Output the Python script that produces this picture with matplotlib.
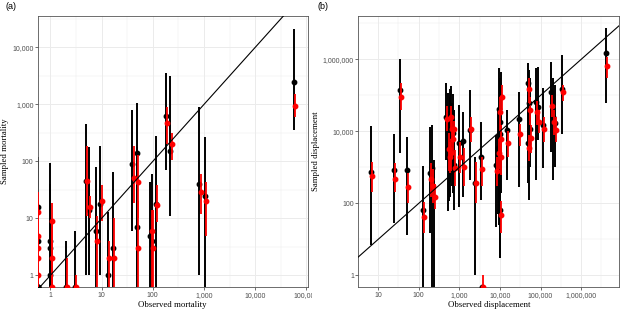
import numpy as np
import matplotlib
matplotlib.use("Agg")
import matplotlib.pyplot as plt
from matplotlib.ticker import FixedLocator, FuncFormatter
from matplotlib.transforms import Bbox, TransformedBbox

# ---- panel (a): mortality (0 = value on the axis edge, like ggplot's -Inf) ----
obs_a = np.array([0, 0, 0, 0, 0, 1, 1, 1, 2, 3, 5, 5.7, 7.8, 9.5, 13.5, 16.5,
                  40, 49, 49, 90, 95, 115, 178, 220, 815, 1030, 56000])
black_a = np.array([16, 4, 0, 0, 0, 4, 3, 1, 0, 0, 45, 14, 6, 18, 1, 3,
                    90, 140, 7, 5, 4, 18, 630, 150, 40, 24.6, 2500])
black_lo_a = np.array([0, 0, 0, 0, 0, 0, 0, 0, 0, 0, 1, 1, 0, 1, 0, 0,
                       6, 1, 0, 0, 0, 0, 70, 11, 1, 0, 355])
black_hi_a = np.array([120, 60, 10, 5, 3, 95, 40, 20, 4, 6, 450, 180, 80, 185, 13, 65,
                       810, 1070, 180, 44, 61, 275, 3500, 3150, 910, 270, 21000])
red_a = np.array([13, 5, 3, 2, 1, 9, 2, 0, 0, 0, 45, 16, 4, 20, 2, 2,
                  51, 43, 3, 6, 3, 17, 465, 200, 29, 20, 930])
red_lo_a = np.array([0, 1, 0, 0, 0, 0, 0, 0, 0, 0, 11, 10, 0, 9, 0, 0,
                     19, 10, 0, 0, 0, 8.7, 205, 105, 12, 5, 600])
red_hi_a = np.array([29, 20, 8, 5, 3, 19, 8, 4, 2, 1, 190, 25, 11, 38, 4, 10,
                     190, 130, 20, 14, 14, 38, 890, 310, 60, 44, 1550])

# ---- panel (b): displacement ----
obs_b = np.array([6.6, 25, 34, 52, 130, 187, 215, 240, 470, 540, 580, 600, 640, 680,
                  720, 560, 750, 1000, 1250, 1870, 2400, 3500, 3600, 7900, 8900, 9600,
                  9800, 10000, 10200, 10500, 14800, 29500, 50000, 52000, 55000, 48000,
                  76000, 89000, 113000, 185000, 200000, 225000, 340000, 4.2e6])
black_b = np.array([740, 850, 140000, 850, 65, 720, 970, 150, 24500, 3500, 32000, 4650,
                    16700, 6000, 9000, 1780, 1200, 4800, 5350, 11000, 370, 1950, np.nan,
                    1150, 3550, 43000, 18500, 8700, 65, 91000, 11000, 21500, 215000,
                    60000, 12000, 4650, 66000, 48000, 15000, 126000, 25500, 16700,
                    150000, 1.5e6])
black_lo_b = np.array([7, 29, 2450, 13, 0, 15, 0, 0, 1600, 60, 400, 150, 1500, 300,
                       200, 120, 65, 80, 150, 445, 1, 124, np.nan, 22, 50, 25, 300, 3,
                       3, 190, 445, 290, 3000, 124, 1000, 360, 445, 5700, 940, 2700,
                       445, 1000, 8700, 60000])
black_hi_b = np.array([14000, 8700, 1e6, 6800, 1100, 13000, 15000, 1600, 215000,
                       120000, 150000, 90000, 180000, 60000, 110000, 30000, 40000,
                       54000, 35000, 140000, 2000, 18500, np.nan, 7900, 40000, 560000,
                       300000, 200000, 1500, 450000, 39000, 126000, 800000, 500000,
                       300000, 100000, 560000, 600000, 156000, 850000, 300000, 200000,
                       1.3e6, 7.2e6])
red_b = np.array([585, 480, 88000, 280, 41, 490, 300, 150, 21500, 3160, 24500, 2450,
                  12000, 6300, 12000, 2000, 940, 1950, 1000, 11300, 370, 880, 0, 790,
                  2450, 35000, 6300, 1950, 47, 91000, 4900, 8300, 147000, 39000, 6600,
                  3550, 35000, 18500, 11300, 50000, 18500, 11000, 126000, 660000])
red_lo_b = np.array([210, 210, 39000, 100, 15, 150, 100, 70, 10000, 800, 11000, 800,
                     5000, 2500, 5000, 700, 300, 700, 300, 5000, 100, 300, 0, 300, 900,
                     10000, 2000, 600, 15, 40000, 2000, 4000, 60000, 15000, 2500, 1500,
                     15000, 9000, 5000, 25000, 8000, 5000, 70000, 295000])
red_hi_b = np.array([1440, 1300, 215000, 680, 110, 1300, 900, 350, 50000, 9000, 50000,
                     6000, 25000, 13000, 20000, 5000, 3000, 5000, 3500, 25000, 1400,
                     2000, 1, 2000, 6000, 90000, 15000, 5000, 120, 200000, 10000, 16000,
                     300000, 90000, 15000, 8000, 70000, 40000, 25000, 100000, 40000,
                     25000, 200000, 1.18e6])

W, H = 623, 312
fig = plt.figure(figsize=(W / 100, H / 100), dpi=100)

SANS = "Liberation Sans"
SERIF = "Liberation Serif"


def edge(v, lim):
    v = np.asarray(v, dtype=float)
    return np.where(v > 0, v, lim)


def comma(v, pos):
    return f"{v:,.0f}"


def panel(rect, obs, blk, blo, bhi, red, rlo, rhi, xlim, ylim,
          xmaj, ymaj, xmin, ymin, xlabel, ylabel):
    ax = fig.add_axes(rect)
    ax.set_xscale("log")
    ax.set_yscale("log")
    ax.set_xlim(*xlim)
    ax.set_ylim(*ylim)

    for v in xmin:
        ax.axvline(v, color="#EBEBEB", lw=0.35, zorder=0)
    for v in ymin:
        ax.axhline(v, color="#EBEBEB", lw=0.35, zorder=0)
    for v in xmaj:
        ax.axvline(v, color="#EBEBEB", lw=0.7, zorder=0)
    for v in ymaj:
        ax.axhline(v, color="#EBEBEB", lw=0.7, zorder=0)

    x = edge(obs, xlim[0])
    # red estimates are dodged a little to the right
    xr = np.where(np.asarray(obs) > 0, x * 10 ** 0.025, x)
    lo = edge(blo, ylim[0])
    hi = edge(bhi, ylim[0])
    ax.vlines(x, lo, hi, color="black", lw=1.4, zorder=2)
    ax.plot(x, edge(blk, ylim[0]), "o", color="black", ms=3.2, zorder=3)
    ax.vlines(xr, edge(rlo, ylim[0]), edge(rhi, ylim[0]), color="#FF0000", lw=1.3, zorder=4)
    ax.plot(xr, edge(red, ylim[0]), "o", color="#FF0000", ms=3.2, zorder=5)

    lim = [min(xlim[0], ylim[0]), max(xlim[1], ylim[1])]
    ax.plot(lim, lim, color="black", lw=0.8, zorder=6)

    ax.xaxis.set_major_locator(FixedLocator(xmaj))
    ax.yaxis.set_major_locator(FixedLocator(ymaj))
    ax.xaxis.set_minor_locator(FixedLocator([]))
    ax.yaxis.set_minor_locator(FixedLocator([]))
    ax.xaxis.set_major_formatter(FuncFormatter(comma))
    ax.yaxis.set_major_formatter(FuncFormatter(comma))
    ax.tick_params(length=2, width=0.5, color="#333333", pad=1.2,
                   labelsize=5, labelcolor="#4D4D4D")
    for lab in ax.get_xticklabels() + ax.get_yticklabels():
        lab.set_family(SANS)
    for s in ax.spines.values():
        s.set_color("#555555")
        s.set_linewidth(0.6)
    ax.set_xlabel(xlabel, family=SERIF, fontsize=6.3, labelpad=1.5)
    ax.set_ylabel(ylabel, family=SERIF, fontsize=6.3, labelpad=2)
    return ax


ax_a = panel([38 / W, 1 - 287.3 / H, 269.5 / W, 271.3 / H],
             obs_a, black_a, black_lo_a, black_hi_a, red_a, red_lo_a, red_hi_a,
             (0.575, 1.05e5), (0.62, 35500),
             [1, 10, 100, 1e3, 1e4, 1e5], [1, 10, 100, 1e3, 1e4],
             [10 ** (k + 0.5) for k in range(0, 5)], [10 ** (k + 0.5) for k in range(-1, 5)],
             "Observed mortality", "Sampled mortality")

ax_b = panel([358.3 / W, 1 - 287.3 / H, 261 / W, 271.3 / H],
             obs_b, black_b, black_lo_b, black_hi_b, red_b, red_lo_b, red_hi_b,
             (3.27, 8.7e6), (0.47, 1.6e7),
             [10, 100, 1e3, 1e4, 1e5, 1e6], [1, 100, 1e4, 1e6],
             [10 ** (k + 0.5) for k in range(0, 7)], [10, 1e3, 1e5, 1e7],
             "Observed displacement", "Sampled displacement")

# the last x label of panel (a) is cut at the panel boundary, as in the original
fig.canvas.draw()
clip = TransformedBbox(Bbox([[0, 0], [311.5 / W, 1]]), fig.transFigure)
for lab in ax_a.get_xticklabels():
    lab.set_clip_box(clip)
    lab.set_clip_on(True)

fig.text(6 / W, 1 - 2 / H, "(a)", family=SANS, fontsize=6.5, va="top", ha="left")
fig.text(318 / W, 1 - 2 / H, "(b)", family=SANS, fontsize=6.5, va="top", ha="left")

fig.savefig("out.png", dpi=100)
